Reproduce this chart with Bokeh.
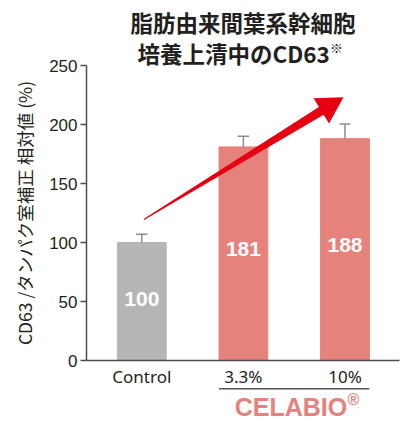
import math
from bokeh.plotting import figure
from bokeh.models import Range1d, FixedTicker, Label, ColumnDataSource
from bokeh.core.properties import value
from bokeh.embed import file_html
from bokeh.resources import INLINE

# ---- data ----
categories = ["Control", "3.3%", "10%"]
values = [100, 181, 188]
errors = [7, 9, 12.5]
bar_colors = ["#b4b5b4", "#e5827b", "#e5827b"]
y_ticks = [0, 50, 100, 150, 200, 250]
title_line1 = "脂肪由来間葉系幹細胞"
title_line2 = "培養上清中のCD63"
title_note = "※"
y_label = "CD63 /タンパク室補正 相対値 (%)"
brand = "CELABIO"
brand_mark = "®"
arrow_tail = (0.02, 119.5)
arrow_tip = (1.985, 223.0)

# ---- layout: the frame fills the canvas; axes are placed at fixed data locations ----
W, H = 403, 421
px_per_x = 101.6          # pixels per category step
px_per_y = 1.18           # pixels per y unit
x_org, y_org = 141.3, 360.0   # pixel position of (x=0, y=0)
x0, x1 = -x_org / px_per_x, (W - x_org) / px_per_x
y0, y1 = -(H - y_org) / px_per_y, y_org / px_per_y
x_axis_left = (86 - x_org) / px_per_x
x_axis_right = (399 - x_org) / px_per_x
bar_w = 0.48
xs = list(range(len(categories)))

p = figure(width=W, height=H, x_range=Range1d(x0, x1), y_range=Range1d(y0, y1),
           output_backend="svg", toolbar_location=None,
           min_border=0, min_border_left=0, min_border_right=0,
           min_border_top=0, min_border_bottom=0)
p.outline_line_color = None
p.grid.visible = False
p.background_fill_color = "white"
p.border_fill_color = "white"

def py_to_data(py):
    return (y_org - py) / px_per_y
def px_to_data(px):
    return (px - x_org) / px_per_x

src = ColumnDataSource(dict(x=xs, top=values, color=bar_colors,
                            err_top=[v + e for v, e in zip(values, errors)],
                            lab_y=[v * 0.52 for v in values],
                            lab=[str(v) for v in values]))
p.vbar(x="x", top="top", width=bar_w, color="color", source=src)

# error bars (upper only)
cap = 0.055
p.segment(x0="x", y0="top", x1="x", y1="err_top", source=src, line_color="#8c8c8c", line_width=1.5)
p.segment(x0=[x - cap for x in xs], y0=src.data["err_top"], x1=[x + cap for x in xs],
          y1=src.data["err_top"], line_color="#8c8c8c", line_width=1.5)

p.text(x="x", y="lab_y", text="lab", source=src, text_font=value("Liberation Sans"),
       text_font_style="bold", text_font_size="21px", text_color="white",
       text_align="center", text_baseline="middle")

# tapered arrow (built in pixel space then mapped back to data)
def to_px(pt):
    return (pt[0] * px_per_x, pt[1] * px_per_y)
def to_data(pt):
    return (pt[0] / px_per_x, pt[1] / px_per_y)
T = to_px(arrow_tail)
Hd = to_px(arrow_tip)
dx, dy = Hd[0] - T[0], Hd[1] - T[1]
L = math.hypot(dx, dy)
ux, uy = dx / L, dy / L
nx, ny = -uy, ux
head_len, head_hw, shaft_hw, tail_hw = 26.0, 14.8, 4.5, 0.5
M = (Hd[0] - ux * head_len, Hd[1] - uy * head_len)
poly = [
    (T[0] + nx * tail_hw, T[1] + ny * tail_hw),
    (M[0] + nx * shaft_hw, M[1] + ny * shaft_hw),
    (M[0] + nx * head_hw, M[1] + ny * head_hw),
    Hd,
    (M[0] - nx * head_hw, M[1] - ny * head_hw),
    (M[0] - nx * shaft_hw, M[1] - ny * shaft_hw),
    (T[0] - nx * tail_hw, T[1] - ny * tail_hw),
]
dpoly = [to_data(q) for q in poly]
p.patch([q[0] for q in dpoly], [q[1] for q in dpoly], fill_color="#e60012", line_color=None)

# axes
axis_col = "#4d4d4d"
text_col = "#231f20"
p.yaxis.fixed_location = x_axis_left
p.yaxis.bounds = (y_ticks[0], y_ticks[-1])
p.yaxis.ticker = FixedTicker(ticks=y_ticks)
p.yaxis.minor_tick_line_color = None
p.yaxis.major_tick_out = 6
p.yaxis.major_tick_in = 0
p.yaxis.major_tick_line_color = axis_col
p.yaxis.major_tick_line_width = 1.5
p.yaxis.axis_line_color = axis_col
p.yaxis.axis_line_width = 1.5
p.yaxis.major_label_text_font = "Liberation Sans"
p.yaxis.major_label_text_font_size = "17px"
p.yaxis.major_label_text_color = text_col
p.yaxis.major_label_standoff = 3
p.yaxis.axis_label = y_label
p.yaxis.axis_label_text_font = "Noto Sans CJK JP"
p.yaxis.axis_label_text_font_style = "normal"
p.yaxis.axis_label_text_font_size = "17.5px"
p.yaxis.axis_label_text_color = text_col
p.yaxis.axis_label_standoff = 9

p.xaxis.fixed_location = 0
p.xaxis.bounds = (x_axis_left, x_axis_right)
p.xaxis.ticker = FixedTicker(ticks=xs)
p.xaxis.major_label_overrides = {i: c for i, c in enumerate(categories)}
p.xaxis.major_tick_out = 0
p.xaxis.major_tick_in = 0
p.xaxis.minor_tick_line_color = None
p.xaxis.axis_line_color = axis_col
p.xaxis.axis_line_width = 1.5
p.xaxis.major_label_text_font = "Noto Sans"
p.xaxis.major_label_text_font_size = "17px"
p.xaxis.major_label_text_color = text_col
p.xaxis.major_label_standoff = 4

# title
title_col = "#231f20"
p.add_layout(Label(x=px_to_data(242.5), y=py_to_data(21.7), text=title_line1, text_align="center",
                   text_baseline="middle", text_font="Noto Sans CJK JP",
                   text_font_style="bold", text_font_size="22.5px", text_color=title_col))
p.add_layout(Label(x=px_to_data(137), y=py_to_data(52.0), text=title_line2, text_align="left",
                   text_baseline="middle", text_font="Noto Sans CJK JP",
                   text_font_style="bold", text_font_size="22.5px", text_color=title_col))
p.add_layout(Label(x=px_to_data(336), y=py_to_data(47), text=title_note, text_align="center",
                   text_baseline="middle", text_font="Noto Sans CJK JP",
                   text_font_style="normal", text_font_size="13px", text_color=title_col))

# group underline and brand
uy_line = py_to_data(388.3)
p.segment(x0=[1 - bar_w / 2], y0=[uy_line], x1=[2 + bar_w / 2], y1=[uy_line],
          line_color="#555555", line_width=1.5)
p.add_layout(Label(x=px_to_data(290.5), y=py_to_data(406), text=brand, text_align="center",
                   text_baseline="middle", text_font="Liberation Sans", text_font_style="bold",
                   text_font_size="25px", text_color="#e5827b"))
p.add_layout(Label(x=px_to_data(353), y=py_to_data(399), text=brand_mark, text_align="center",
                   text_baseline="middle", text_font="Liberation Sans", text_font_style="bold",
                   text_font_size="16px", text_color="#e5827b"))

open("out.html", "w").write(file_html(p, INLINE))
